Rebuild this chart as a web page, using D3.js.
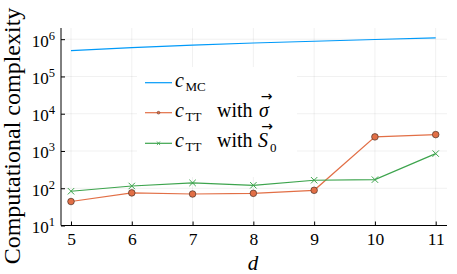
<!DOCTYPE html>
<html><head><meta charset="utf-8">
<script src="https://cdn.jsdelivr.net/npm/d3@7"></script>
<style>body{margin:0;background:#fff}svg{display:block}text{font-family:"Liberation Serif","DejaVu Serif",serif;fill:#000}</style>
</head><body><svg id="c" width="457" height="274"></svg>
<script>
const dims = [5, 6, 7, 8, 9, 10, 11];
const cMC = [490000, 590000, 690000, 790000, 880000, 980000, 1078000];
const cTTsigma = [44, 75, 70, 73, 88, 2390, 2750];
const cTTS0 = [83, 115, 139, 120, 164, 170, 850];
const yTicks = [1, 2, 3, 4, 5, 6];
const colors = {mc: "#009af9", sigma: "#e26f46", s0: "#3da44d"};

const svg = d3.select("#c");
const L = 61, R = 447, T = 28, B = 225.5;
const x = d3.scaleLinear().domain([5, 11]).range([71, 435.7]);
const y = d3.scaleLog().domain([10, Math.pow(10, 6.3)]).range([B, T]);
const serif = '"Liberation Serif","DejaVu Serif",serif';

const g = svg.append("g");
g.selectAll(".gx").data(dims).enter().append("line")
  .attr("x1", d => x(d)).attr("x2", d => x(d)).attr("y1", T).attr("y2", B)
  .attr("stroke", "#000").attr("stroke-opacity", 0.1).attr("stroke-width", 0.6);
g.selectAll(".gy").data(yTicks).enter().append("line")
  .attr("x1", L).attr("x2", R).attr("y1", d => y(Math.pow(10, d))).attr("y2", d => y(Math.pow(10, d)))
  .attr("stroke", "#000").attr("stroke-opacity", 0.1).attr("stroke-width", 0.6);

const xAxis = d3.axisBottom(x).tickValues(dims).tickSize(-4).tickSizeOuter(0).tickPadding(6).tickFormat(d3.format("d"));
const ax = svg.append("g").attr("transform", `translate(0,${B})`).call(xAxis).attr("font-family", serif);
ax.select(".domain").attr("d", `M${L},0H${R}`).attr("stroke", "#000");
ax.selectAll("text").style("font-size", "17.5px").style("font-family", serif).attr("dy", "0.75em");

const yAxis = d3.axisLeft(y).tickValues(yTicks.map(d => Math.pow(10, d))).tickSize(-4).tickSizeOuter(0).tickFormat("");
const ay = svg.append("g").attr("transform", `translate(${L},0)`).call(yAxis).attr("font-family", serif);
ay.select(".domain").attr("d", `M0,${T}V${B}`).attr("stroke", "#000");
ay.selectAll(".tick").each(function(d) {
  const e = Math.round(Math.log10(d));
  const t = d3.select(this).append("text").attr("x", -6).attr("y", 7).attr("text-anchor", "end")
    .style("font-size", "17px").style("font-family", serif).style("fill", "#000");
  t.append("tspan").text("10");
  t.append("tspan").attr("dy", -7).style("font-size", "12.5px").text(e);
});

function series(vals, col, marker) {
  const line = d3.line().x((d, i) => x(dims[i])).y(d => y(d));
  svg.append("path").datum(vals).attr("d", line).attr("fill", "none").attr("stroke", col).attr("stroke-width", 1.2);
  if (marker === "circle") {
    svg.selectAll(null).data(vals).enter().append("circle")
      .attr("cx", (d, i) => x(dims[i])).attr("cy", d => y(d)).attr("r", 3.3)
      .attr("fill", col).attr("stroke", "#4a3228").attr("stroke-width", 0.7);
  } else if (marker === "x") {
    const s = 3.2;
    svg.selectAll(null).data(vals).enter().append("path")
      .attr("d", (d, i) => { const cx = x(dims[i]), cy = y(d); return `M${cx-s},${cy-s}L${cx+s},${cy+s}M${cx-s},${cy+s}L${cx+s},${cy-s}`; })
      .attr("stroke", col).attr("stroke-width", 1);
  }
}
series(cMC, colors.mc, null);
series(cTTsigma, colors.sigma, "circle");
series(cTTS0, colors.s0, "x");

// legend
const lg = svg.append("g");
lg.append("rect").attr("x", 137).attr("y", 67).attr("width", 160).attr("height", 110).attr("fill", "#fff");
const rows = [
  {y: 82.7, col: colors.mc, m: null, sub: "MC"},
  {y: 112.7, col: colors.sigma, m: "circle", sub: "TT", rest: "with", sym: "σ"},
  {y: 143.3, col: colors.s0, m: "x", sub: "TT", rest: "with", sym: "S", symsub: "0"}
];
rows.forEach(r => {
  lg.append("line").attr("x1", 145).attr("x2", 172).attr("y1", r.y).attr("y2", r.y).attr("stroke", r.col).attr("stroke-width", 1.2);
  if (r.m === "circle") lg.append("circle").attr("cx", 158.5).attr("cy", r.y).attr("r", 1.4).attr("fill", r.col).attr("stroke", "#4a3228").attr("stroke-width", 0.5);
  if (r.m === "x") lg.append("path").attr("d", `M157,${r.y-1.8}L160,${r.y+1.8}M157,${r.y+1.8}L160,${r.y-1.8}`).attr("stroke", r.col).attr("stroke-width", 0.8);
  const by = r.y + 4;
  const t = lg.append("text").attr("y", by).style("font-size", "20px");
  t.append("tspan").attr("x", 175).style("font-style", "italic").text("c");
  t.append("tspan").attr("x", 185.5).attr("y", by + 4).style("font-size", "13px").text(r.sub);
  if (r.rest) {
    t.append("tspan").attr("x", 217).attr("y", by).text(r.rest);
    t.append("tspan").attr("x", r.symsub ? 258 : 259).attr("y", by).style("font-style", "italic").text(r.sym);
    if (r.symsub) t.append("tspan").attr("x", 270).attr("y", by + 5).style("font-size", "13px").text(r.symsub);
    lg.append("text").attr("x", r.symsub ? 267 : 266.5).attr("y", by - 16).attr("text-anchor", "middle")
      .style("font-size", "14px").style("font-family", '"DejaVu Sans",sans-serif').text("→");
  }
});

svg.append("text").attr("transform", "translate(20,136) rotate(-90)").attr("text-anchor", "middle")
  .style("font-size", "24px").text("Computational complexity");
svg.append("text").attr("x", 253).attr("y", 270).attr("text-anchor", "middle").style("font-size", "21px")
  .style("font-style", "italic").text("d");
</script></body></html>
